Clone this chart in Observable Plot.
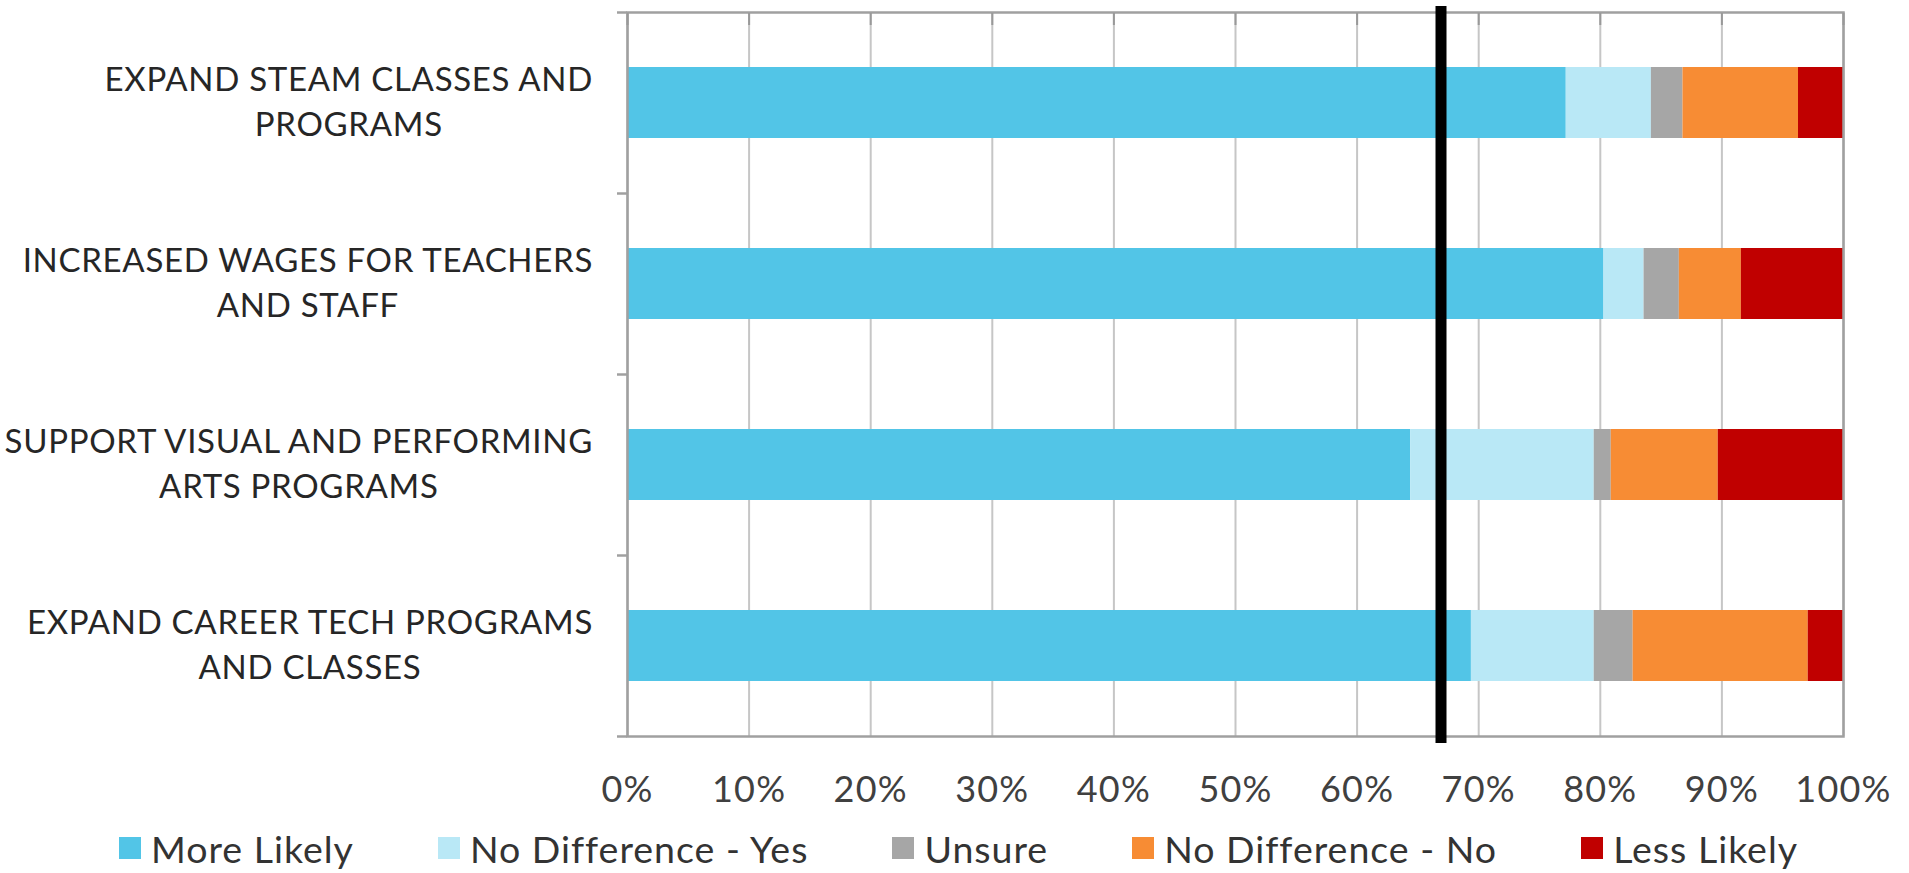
<!DOCTYPE html>
<html>
<head>
<meta charset="utf-8">
<script src="https://cdn.jsdelivr.net/npm/d3@7"></script>
<script src="https://cdn.jsdelivr.net/npm/@observablehq/plot@0.6"></script>
<style>
  html, body { margin: 0; padding: 0; background: #fff; }
  body { width: 1909px; height: 873px; overflow: hidden; font-family: Lato, "Open Sans", sans-serif; }
  #legend { position: relative; height: 58px; font-size: 37.5px; color: #333; letter-spacing: 1px; }
  .item { position: absolute; top: 0; height: 58px; display: flex; align-items: center; }
  .sw { width: 22px; height: 22px; margin-right: 10px; }
</style>
</head>
<body>
<div id="chart"></div>
<div id="legend"></div>
<script>
const categories = [
  "EXPAND STEAM CLASSES AND\nPROGRAMS",
  "INCREASED WAGES FOR TEACHERS\nAND STAFF",
  "SUPPORT VISUAL AND PERFORMING\nARTS PROGRAMS",
  "EXPAND CAREER TECH PROGRAMS\nAND CLASSES"
];
const series = ["More Likely", "No Difference - Yes", "Unsure", "No Difference - No", "Less Likely"];
const colors = ["#52c5e7", "#b9e8f6", "#a6a6a6", "#f78c34", "#c00000"];
const moreLikely   = [77.2, 80.3, 64.4, 69.4];
const noDiffYes    = [7.0, 3.3, 15.1, 10.1];
const unsure       = [2.6, 2.9, 1.4, 3.2];
const noDiffNo     = [9.5, 5.1, 8.8, 14.4];
const lessLikely   = [3.7, 8.4, 10.3, 2.9];
const xTicks = [0, 10, 20, 30, 40, 50, 60, 70, 80, 90, 100];
const threshold = [66.9];

const seriesValues = [moreLikely, noDiffYes, unsure, noDiffNo, lessLikely];
const data = [];
categories.forEach((c, i) => series.forEach((s, j) => data.push({category: c, series: s, value: seriesValues[j][i]})));

const W = 1909, H = 815, ML = 627, MR = 66, MT = 12, MB = 79;
const gridColor = "#c6c6c6", axisColor = "#a0a0a0";

const chart = Plot.plot({
  width: W, height: H,
  marginLeft: ML, marginRight: MR, marginTop: MT, marginBottom: MB,
  style: {fontFamily: "Lato, 'Open Sans', sans-serif", color: "#333", background: "#fff", overflow: "visible"},
  x: {domain: [0, 100]},
  y: {domain: categories, paddingInner: 0.605, paddingOuter: 0.3025},
  color: {domain: series, range: colors},
  marks: [
    Plot.gridX(xTicks, {stroke: gridColor, strokeOpacity: 1, strokeWidth: 2}),
    Plot.barX(data, Plot.stackX({x: "value", y: "category", fill: "series", order: series})),
    Plot.frame({stroke: axisColor, strokeWidth: 2.5}),
    Plot.axisX({anchor: "top", ticks: xTicks, tickSize: 12, dy: 12, text: null, label: null, stroke: "#999", strokeWidth: 2}),
    Plot.axisY({ticks: categories, tickSize: 10, dy: 90.5, text: null, label: null, stroke: axisColor, strokeWidth: 2.5}),
    Plot.axisY({ticks: [categories[0]], tickSize: 10, dy: -90.5, text: null, label: null, stroke: axisColor, strokeWidth: 2.5}),
    Plot.axisX({anchor: "bottom", ticks: xTicks, tickFormat: d => d + "%", tickSize: 0, tickPadding: 40, fontSize: 36, label: null, fill: "#404040"}),
    Plot.axisY({anchor: "left", ticks: categories, tickSize: 0, tickPadding: 34, textAnchor: "middle", lineAnchor: "middle", fontSize: 33, lineHeight: 1.36, label: null, fill: "#262626"}),
    Plot.ruleX(threshold, {stroke: "#000", strokeWidth: 11, insetTop: -6, insetBottom: -7})
  ]
});
document.getElementById("chart").appendChild(chart);

chart.querySelectorAll('g[aria-label="x-axis tick label"]').forEach(g => g.setAttribute("letter-spacing", "1.2px"));
chart.querySelectorAll('g[aria-label="y-axis tick label"]').forEach(g => g.setAttribute("letter-spacing", "0.7px"));

// center-align the multi-line category labels, with the longest line ending just before the axis
const labelRight = ML - 34;
const svgBox = chart.getBoundingClientRect();
chart.querySelectorAll('g[aria-label="y-axis tick label"] text').forEach((t, i) => {
  const r = t.getBoundingClientRect();
  const tr = t.getAttribute("transform") || "";
  const m = tr.match(/translate\(([^,\s]+)[,\s]+([^)]+)\)/);
  const x0 = m ? +m[1] : 0, y0 = m ? +m[2] : 0;
  const dxShift = labelRight - (r.right - svgBox.left);
  t.setAttribute("transform", `translate(${x0 + dxShift},${y0 - 4})`);
});

// legend: items laid out left to right, centred under the chart
const legend = document.getElementById("legend");
const items = series.map((s, i) => {
  const it = document.createElement("div");
  it.className = "item";
  it.innerHTML = `<div class="sw" style="background:${colors[i]}"></div><span>${s}</span>`;
  legend.appendChild(it);
  return it;
});
const gap = 84;
const widths = items.map(it => it.getBoundingClientRect().width);
const total = d3.sum(widths) + gap * (items.length - 1);
let x = (W - total) / 2 + 4;
items.forEach((it, i) => { it.style.left = x + "px"; x += widths[i] + gap; });
legend.style.marginTop = "4px";
</script>
</body>
</html>
